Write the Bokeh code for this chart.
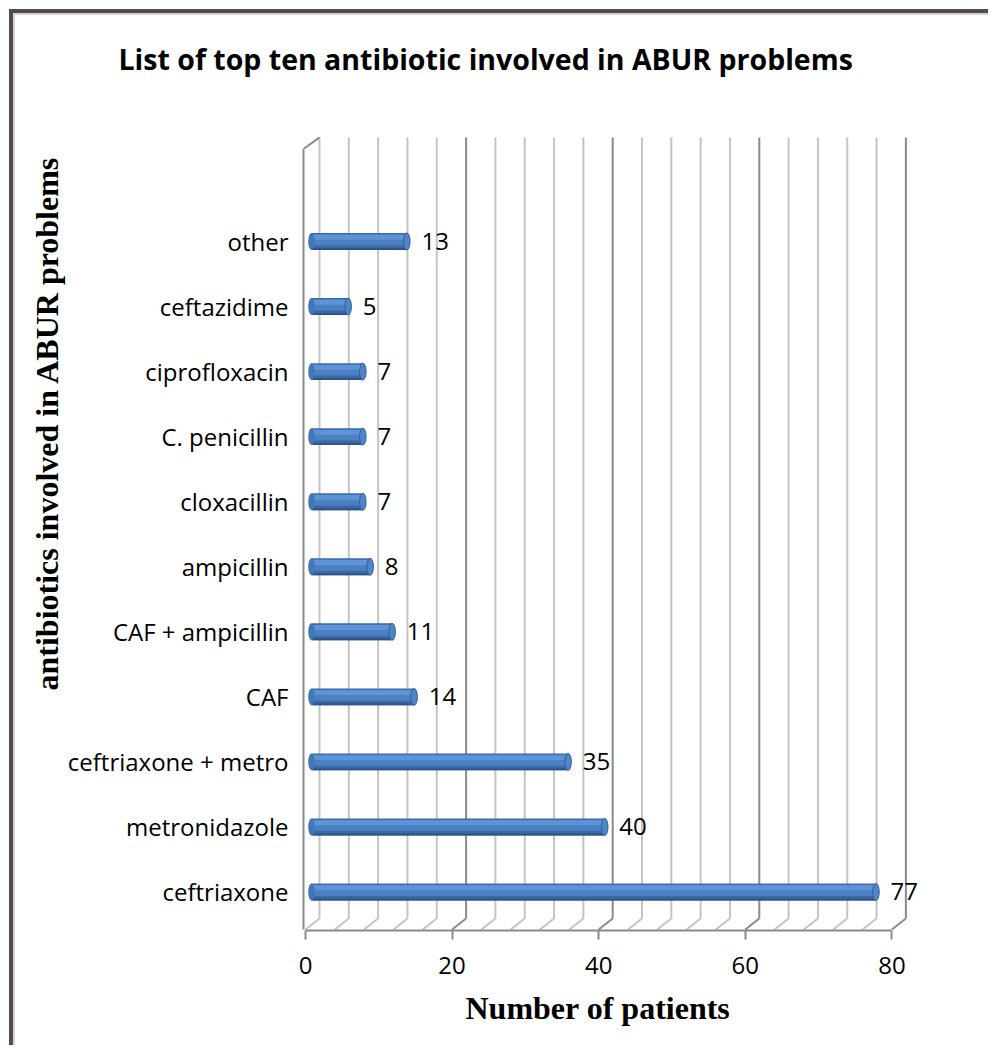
import math
from bokeh.plotting import figure
from bokeh.models import Range1d, LinearAxis, FixedTicker, Title
from bokeh.core.properties import value
from bokeh.embed import file_html
from bokeh.resources import INLINE

# ---- data ----
categories = ["ceftriaxone", "metronidazole", "ceftriaxone + metro", "CAF",
              "CAF + ampicillin", "ampicillin", "cloxacillin", "C. penicillin",
              "ciprofloxacin", "ceftazidime", "other"]
patients = [77, 40, 35, 14, 11, 8, 7, 7, 7, 5, 13]
x_ticks = [0, 20, 40, 60, 80]
grid_ticks = list(range(0, 81, 4))
title_text = "List of top ten antibiotic involved in ABUR problems"
x_title = "Number of patients"
y_title = "antibiotics involved in ABUR problems"

# ---- layout / style constants ----
W, H = 988, 1045
BORDER_L, BORDER_T = 303, 100
FRAME_W, FRAME_H = 625, 830
PX_X, PX_Y = 7.33, 65.05
X_START = -1.091
X_END = X_START + FRAME_W / PX_X
Y_START = -0.592
Y_END = Y_START + FRAME_H / PX_Y
OFF_FRONT, OFF_BACK = -0.82, 1.09
FLOOR_FRONT, FLOOR_BACK = -0.576, -0.407
TOP_FRONT, TOP_BACK = 11.43, 11.6
BAR_H = 0.26

LIGHT = "#c4c4c4"
DARK = "#8a8a8a"
FRAME_COL = "#574a4e"

y_pos = list(range(len(categories)))

p = figure(width=W, height=H, output_backend="svg", toolbar_location=None,
           x_range=Range1d(X_START, X_END), y_range=Range1d(Y_START, Y_END),
           x_axis_location=None, y_axis_location="left")
p.min_border_left = BORDER_L
p.min_border_right = W - BORDER_L - FRAME_W
p.min_border_top = BORDER_T
p.min_border_bottom = H - BORDER_T - FRAME_H
p.outline_line_color = None
p.xgrid.visible = False
p.ygrid.visible = False
p.background_fill_alpha = 0
p.border_fill_alpha = 0
p.styles = {
    "background": (f"linear-gradient({FRAME_COL},{FRAME_COL}) 9px 9px / 4px 100% no-repeat, "
                   f"linear-gradient({FRAME_COL},{FRAME_COL}) 9px 9px / 100% 4px no-repeat, "
                   "linear-gradient(#d4d4d4,#d4d4d4) 13px 13px / 2px 100% no-repeat, "
                   "linear-gradient(#d4d4d4,#d4d4d4) 13px 13px / 100% 2px no-repeat, #ffffff")
}

# ---- 3D wall grid ----
minor = [t for t in grid_ticks if t not in x_ticks[1:]]
major = x_ticks[1:]
for ticks, col in ((minor, LIGHT), (major, DARK)):
    p.segment(x0=[t + OFF_BACK for t in ticks], y0=[FLOOR_BACK] * len(ticks),
              x1=[t + OFF_BACK for t in ticks], y1=[TOP_BACK] * len(ticks),
              line_color=col, line_width=2)
    p.segment(x0=[t + OFF_FRONT for t in ticks], y0=[FLOOR_FRONT] * len(ticks),
              x1=[t + OFF_BACK for t in ticks], y1=[FLOOR_BACK] * len(ticks),
              line_color=col, line_width=2)
# top-left wall edge
p.segment(x0=[X_START + 0.1], y0=[TOP_FRONT], x1=[OFF_BACK], y1=[TOP_BACK],
          line_color=DARK, line_width=2)

# ---- cylinder bars ----
p.hbar(y=y_pos, left=0, right=patients, height=BAR_H,
       fill_color="#3a69a6", line_color=None)
p.hbar(y=[y + 0.025 for y in y_pos], left=0, right=patients, height=0.17,
       fill_color="#4b80c3", line_color=None)
p.hbar(y=[y + 0.065 for y in y_pos], left=0, right=patients, height=0.075,
       fill_color="#5e93d5", line_color=None)
p.hbar(y=[y - 0.115 for y in y_pos], left=0, right=patients, height=0.03,
       fill_color="#2c5489", line_color=None)
p.ellipse(x=[0] * len(y_pos), y=y_pos, width=0.9, height=BAR_H,
          fill_color="#4277b8", line_color=None)
p.ellipse(x=patients, y=y_pos, width=0.9, height=BAR_H,
          fill_color="#4f84c6", line_color="#33609c", line_width=1)

# value labels
p.text(x=[v + 2.0 for v in patients], y=y_pos, text=[str(v) for v in patients],
       text_font=value("Open Sans"), text_font_size="24px",
       text_baseline="middle", text_align="left", text_color="black")

# ---- axes ----
yax = p.yaxis[0]
yax.ticker = FixedTicker(ticks=y_pos)
yax.major_label_overrides = {i: c for i, c in zip(y_pos, categories)}
yax.major_label_text_font = "Open Sans"
yax.major_label_text_font_size = "24px"
yax.major_label_text_color = "black"
yax.major_tick_line_color = None
yax.minor_tick_line_color = None
yax.major_tick_out = 0
yax.major_label_standoff = 15
yax.axis_line_color = DARK
yax.axis_line_width = 2
yax.bounds = (FLOOR_FRONT, TOP_FRONT)

p.extra_x_ranges = {"front": Range1d(X_START - OFF_FRONT, X_END - OFF_FRONT)}
xax = LinearAxis(x_range_name="front", ticker=FixedTicker(ticks=x_ticks),
                 bounds=(x_ticks[0], x_ticks[-1]))
xax.axis_line_color = DARK
xax.axis_line_width = 2
xax.major_tick_line_color = DARK
xax.major_tick_line_width = 2
xax.major_tick_out = 9
xax.major_tick_in = 0
xax.minor_tick_line_color = None
xax.major_label_text_font = "Open Sans"
xax.major_label_text_font_size = "24px"
xax.major_label_text_color = "black"
xax.major_label_standoff = 17
p.add_layout(xax, "below")

# ---- titles ----
p.title.text = title_text
p.title.text_font = "Open Sans"
p.title.text_font_style = "bold"
p.title.text_font_size = "28.5px"
p.title.text_color = "black"
p.title.align = "left"
p.title.offset = -185
p.title.standoff = 46

p.add_layout(Title(text=x_title, align="left", offset=162, standoff=22,
                   text_font="Liberation Serif", text_font_style="bold",
                   text_font_size="32px", text_color="black"), "below")

p.add_layout(Title(text=y_title, align="left", offset=240, standoff=0,
                   text_font="Liberation Serif", text_font_style="bold",
                   text_font_size="32px", text_color="black"), "left")

open("out.html", "w").write(file_html(p, INLINE))
